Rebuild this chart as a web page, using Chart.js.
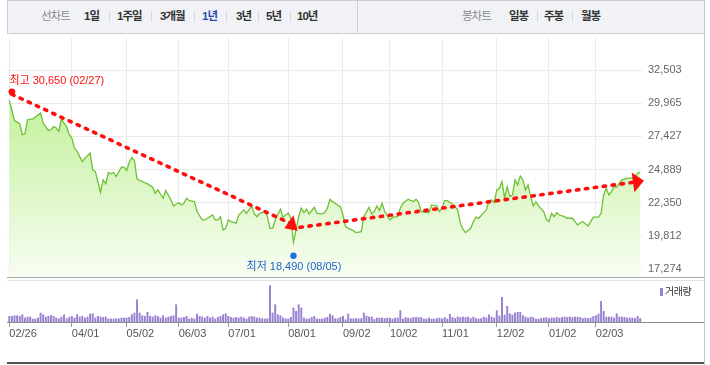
<!DOCTYPE html>
<html lang="ko">
<head>
<meta charset="utf-8">
<title>주가 차트</title>
<script src="https://cdn.jsdelivr.net/npm/chart.js@4.4.1/dist/chart.umd.min.js"></script>
<style>
  html, body { margin: 0; padding: 0; background: #fff; }
  #wrap { position: relative; width: 710px; height: 365px; overflow: hidden;
          font-family: "Liberation Sans", "Noto Sans CJK KR", sans-serif; }
  #toolbar { position: absolute; left: 7px; top: 0; width: 698px; height: 34px; box-sizing: border-box;
             background: #f1f2f6; border: 1px solid #cdced3; }
  .t { position: absolute; top: 0; line-height: 33px; font-size: 11.5px; letter-spacing: -1px;
       font-weight: bold; color: #333; white-space: nowrap; }
  .t.head { font-weight: normal; color: #8a8a8a; }
  .t.on { color: #2a4db3; }
  .sep { position: absolute; top: 11px; width: 1px; height: 11px; background: #d6d7dc; }
  .ln { position: absolute; }
  #price { position: absolute; left: 0; top: 38px; }
  #volume { position: absolute; left: 0; top: 283px; }
  #legend { position: absolute; left: 660px; top: 285px; font-size: 10px; letter-spacing: -0.5px;
            color: #333; line-height: 14px; white-space: nowrap; }
  #legend i { display: inline-block; width: 3px; height: 8px; background: #9a82d2; margin-right: 2px; vertical-align: -1px; }
</style>
</head>
<body>
<div id="wrap">
  <div id="toolbar"></div>
  <div class="ln" style="left:357px;top:0;width:1px;height:33px;background:#cdced3"></div>

  <span class="t head" style="left:41px">선차트</span>
  <span class="t" style="left:84px">1일</span>
  <span class="sep" style="left:109px"></span>
  <span class="t" style="left:117px">1주일</span>
  <span class="sep" style="left:151px"></span>
  <span class="t" style="left:160px">3개월</span>
  <span class="sep" style="left:194px"></span>
  <span class="t on" style="left:202px">1년</span>
  <span class="sep" style="left:226px"></span>
  <span class="t" style="left:236px">3년</span>
  <span class="sep" style="left:258px"></span>
  <span class="t" style="left:266px">5년</span>
  <span class="sep" style="left:290px"></span>
  <span class="t" style="left:297px">10년</span>

  <span class="t head" style="left:462px">봉차트</span>
  <span class="t" style="left:509px">일봉</span>
  <span class="sep" style="left:537px"></span>
  <span class="t" style="left:544px">주봉</span>
  <span class="sep" style="left:572px"></span>
  <span class="t" style="left:581px">월봉</span>

  <canvas id="price" width="710" height="240"></canvas>
  <canvas id="volume" width="710" height="60"></canvas>

  <!-- 테두리 -->
  <div class="ln" style="left:7px;top:277px;width:697px;height:1px;background:#a8a8a8"></div>
  <div class="ln" style="left:7px;top:280px;width:697px;height:1px;background:#e4e4e4"></div>
  <div class="ln" style="left:7px;top:322px;width:697px;height:1px;background:#8c8c8c"></div>
  <div class="ln" style="left:7px;top:362px;width:698px;height:2px;background:#555"></div>
  <div class="ln" style="left:704px;top:0;width:1px;height:365px;background:#c8c8c8"></div>

  <div id="legend"><i></i>거래량</div>
</div>

<script>
// 거래일 인덱스 (0 = 2024-02-26)
const tickDays = [0, 24, 45, 65, 84, 107, 128, 146, 166, 187, 207, 225];
const tickLabels = ['02/26', '04/01', '05/02', '06/03', '07/01', '08/01', '09/02', '10/02', '11/01', '12/02', '01/02', '02/03'];
const priceTicks = [17274, 19812, 22350, 24889, 27427, 29965, 32503];

// 종가
const priceDays = [0, 2, 4, 5, 6, 7, 9, 10, 12, 13,
    15, 16, 17, 18, 19, 20, 21, 22, 23, 24,
    25, 26, 28, 29, 31, 32, 33, 35, 36, 37,
    38, 39, 40, 41, 43, 44, 45, 46, 47, 48,
    49, 51, 53, 55, 56, 57, 59, 60, 62, 63,
    65, 66, 67, 68, 69, 71, 72, 74, 75, 76,
    78, 79, 80, 81, 82, 83, 84, 85, 87, 88,
    90, 91, 93, 94, 95, 96, 98, 99, 100, 101,
    102, 104, 105, 106, 107, 108, 109, 110, 111, 112,
    113, 114, 115, 117, 118, 120, 121, 122, 123, 124,
    126, 127, 128, 129, 130, 132, 133, 135, 136, 138,
    139, 140, 141, 142, 143, 144, 146, 147, 149, 150,
    151, 153, 155, 156, 157, 158, 160, 161, 162, 164,
    165, 166, 167, 168, 170, 172, 173, 174, 175, 177,
    178, 179, 180, 182, 183, 184, 185, 186, 187, 188,
    189, 190, 191, 192, 193, 194, 195, 196, 197, 198,
    199, 200, 201, 202, 203, 205, 206, 207, 208, 209,
    210, 211, 213, 214, 216, 218, 219, 220, 222, 223,
    224, 226, 227, 228, 229, 230, 231, 232, 233, 234,
    235, 237, 239, 240, 241, 242];
const closePrices = [30190, 28650, 28400, 27560, 27630, 28710, 28780, 28910, 29220, 28450,
    27890, 27940, 28190, 28070, 27810, 28760, 28450, 28190, 27560, 27300,
    26540, 26280, 25510, 25770, 26150, 24870, 24740, 23160, 24110, 23800,
    24670, 24570, 24670, 24360, 25080, 25080, 24820, 25430, 25820, 25590,
    24160, 23980, 23800, 23550, 23090, 23340, 22700, 23290, 22570, 22110,
    22370, 22190, 22320, 22700, 22520, 22440, 21680, 21040, 21040, 21170,
    21420, 21040, 21040, 21290, 20270, 20400, 21040, 20910, 20790, 21420,
    21810, 21550, 22110, 21500, 21290, 21550, 21680, 21290, 20400, 20400,
    21040, 21860, 21250, 21420, 21550, 21170, 19350, 20270, 21290, 21940,
    21600, 21860, 21500, 22010, 21550, 21500, 21600, 21940, 22630, 22440,
    22190, 22060, 21420, 20530, 20400, 20220, 20070, 20140, 21290, 22010,
    21500, 21680, 22110, 21750, 22320, 21680, 21040, 21250, 21290, 21940,
    22320, 22630, 22440, 22630, 22370, 21680, 21630, 21600, 22190, 22110,
    21680, 21940, 22520, 22520, 22270, 21810, 20790, 20330, 20070, 20400,
    20910, 21250, 21150, 21600, 21810, 22520, 22570, 22370, 23340, 23470,
    23980, 22700, 23590, 22830, 22950, 24110, 23720, 24410, 24110, 23340,
    23720, 22830, 22110, 22440, 22110, 21680, 21090, 20910, 21550, 21290,
    21600, 21420, 21290, 21170, 21170, 20660, 20830, 20910, 20580, 20910,
    21250, 21250, 21550, 22950, 23470, 22950, 23210, 23590, 23550, 23850,
    24110, 24240, 24240, 24310, 24620, 24700];

// 일별 거래량 (만주, 대략)
const volumes = [57, 57, 63, 63, 57, 73, 40, 50, 50, 30,
    30, 40, 90, 73, 50, 57, 63, 57, 40, 33,
    50, 73, 33, 47, 57, 40, 73, 50, 57, 40,
    50, 80, 83, 40, 57, 50, 47, 50, 30, 30,
    30, 33, 33, 40, 40, 40, 47, 73, 90, 223,
    90, 63, 57, 97, 57, 50, 63, 57, 40, 63,
    40, 50, 57, 63, 173, 40, 40, 47, 57, 30,
    40, 30, 80, 57, 50, 40, 57, 40, 50, 30,
    47, 57, 73, 83, 57, 47, 40, 47, 40, 50,
    40, 30, 50, 57, 50, 40, 40, 33, 30, 33,
    363, 90, 173, 73, 63, 40, 33, 30, 47, 140,
    107, 173, 140, 40, 30, 30, 47, 57, 30, 30,
    30, 40, 47, 80, 63, 33, 33, 47, 57, 23,
    80, 33, 33, 33, 33, 35, 90, 60, 50, 50,
    25, 40, 40, 40, 35, 40, 40, 30, 40, 40,
    113, 30, 45, 40, 35, 45, 45, 45, 45, 30,
    30, 40, 30, 30, 35, 40, 30, 45, 30, 77,
    45, 35, 50, 45, 50, 45, 50, 35, 50, 35,
    30, 35, 50, 40, 73, 50, 40, 113, 60, 247,
    70, 157, 83, 70, 90, 97, 97, 63, 50, 40,
    50, 45, 30, 30, 35, 40, 45, 35, 40, 40,
    45, 40, 45, 50, 45, 50, 45, 50, 50, 45,
    35, 40, 35, 40, 55, 63, 80, 207, 107, 50,
    50, 50, 40, 83, 50, 50, 45, 40, 40, 40,
    35, 57, 35];

// 최고 / 최저
const highDay = 1, highPrice = 30650, highDate = '02/27';
const lowDay = 109, lowPrice = 18490, lowDate = '08/05';

// 추세선 [거래일, 가격]
const trendStart = [[1, 30650], [111.5, 20476]];
const trendEnd = [[108.4, 20728], [240.4, 23950]];

const dayMin = -0.88, dayMax = 242.7;
const priceMin = 16601, priceMax = 34959;
const volumeMax = 390;

const RED = '#ff0d0d';

const setTicks = list => scale => { scale.ticks = list.map(v => ({ value: v })); };

// 화살촉, 최고/최저 표시
const markerPlugin = {
    id: 'markers',
    afterDatasetsDraw(chart) {
        const { ctx } = chart;
        const x = chart.scales.x, y = chart.scales.y;
        ctx.save();

        // 화살촉
        const heads = [
            { angle: -80 * Math.PI / 180, tip: 9, back: 5.5, half: 6.7 },
            { angle: null, tip: 8, back: 3, half: 10 }
        ];
        trendEnd.forEach((end, i) => {
            const ex = x.getPixelForValue(end[0]), ey = y.getPixelForValue(end[1]);
            const sx = x.getPixelForValue(trendStart[i][0]), sy = y.getPixelForValue(trendStart[i][1]);
            const h = heads[i];
            const a = h.angle === null ? Math.atan2(ey - sy, ex - sx) : h.angle;
            const ux = Math.cos(a), uy = Math.sin(a);
            ctx.fillStyle = RED;
            ctx.beginPath();
            ctx.moveTo(ex + h.tip * ux, ey + h.tip * uy);
            ctx.lineTo(ex - h.back * ux - h.half * uy, ey - h.back * uy + h.half * ux);
            ctx.lineTo(ex - h.back * ux + h.half * uy, ey - h.back * uy - h.half * ux);
            ctx.closePath();
            ctx.fill();
        });

        ctx.font = '11px "Liberation Sans", "Noto Sans CJK KR"';
        ctx.textBaseline = 'middle';

        // 최고
        const hx = x.getPixelForValue(highDay), hy = y.getPixelForValue(highPrice) - 2.5;
        ctx.fillStyle = RED;
        ctx.beginPath();
        ctx.arc(hx, hy, 3.4, 0, Math.PI * 2);
        ctx.fill();
        ctx.textAlign = 'left';
        ctx.fillText('최고 ' + highPrice.toLocaleString('en-US') + ' (' + highDate + ')', hx - 2.5, hy - 10.5);

        // 최저
        const lx = x.getPixelForValue(lowDay), ly = y.getPixelForValue(lowPrice) + 2.5;
        ctx.fillStyle = '#1f6fe0';
        ctx.beginPath();
        ctx.arc(lx, ly, 3.2, 0, Math.PI * 2);
        ctx.fill();
        ctx.fillStyle = '#2266cc';
        ctx.textAlign = 'center';
        ctx.fillText('최저 ' + lowPrice.toLocaleString('en-US') + ' (' + lowDate + ')', lx + 0.5, ly + 11.5);

        ctx.restore();
    }
};

const areaFill = context => {
    const { ctx, chartArea } = context.chart;
    if (!chartArea) return null;
    const g = ctx.createLinearGradient(0, chartArea.top, 0, chartArea.bottom);
    g.addColorStop(0, 'rgb(176,236,126)');
    g.addColorStop(1, 'rgb(248,253,242)');
    return g;
};

const trendSets = trendStart.map((s, i) => ({
    data: [{ x: s[0], y: s[1] }, { x: trendEnd[i][0], y: trendEnd[i][1] }],
    borderColor: RED,
    borderWidth: 3.6,
    borderDash: [2.4, 6.6],
    borderCapStyle: 'round',
    pointRadius: 0,
    fill: false,
    order: 0
}));

new Chart(document.getElementById('price'), {
    type: 'line',
    data: {
        datasets: trendSets.concat([{
            data: priceDays.map((d, i) => ({ x: d, y: closePrices[i] })),
            borderColor: '#6cc132',
            borderWidth: 1.3,
            pointRadius: 0,
            tension: 0,
            fill: 'start',
            backgroundColor: areaFill,
            order: 5
        }])
    },
    options: {
        responsive: false,
        animation: false,
        events: [],
        layout: { padding: { left: 7, right: 0, top: 0, bottom: 0 } },
        plugins: { legend: { display: false }, tooltip: { enabled: false } },
        scales: {
            x: {
                type: 'linear', min: dayMin, max: dayMax,
                afterBuildTicks: setTicks(tickDays),
                ticks: { display: false },
                grid: { color: '#ebebeb', drawTicks: false },
                border: { display: false },
                afterFit: s => { s.height = 0; s.paddingLeft = 0; s.paddingRight = 0; }
            },
            y: {
                position: 'right', min: priceMin, max: priceMax,
                afterBuildTicks: setTicks(priceTicks),
                ticks: {
                    padding: 6, color: '#666',
                    font: { family: '"Liberation Sans", Arial', size: 11 },
                    callback: v => v.toLocaleString('en-US')
                },
                grid: { color: '#ebebeb', drawTicks: false },
                border: { display: false },
                afterFit: s => { s.width = 68; s.paddingTop = 0; s.paddingBottom = 0; }
            }
        }
    },
    plugins: [markerPlugin]
});

new Chart(document.getElementById('volume'), {
    type: 'bar',
    data: {
        datasets: [{
            data: volumes.map((v, i) => ({ x: i, y: v })),
            backgroundColor: '#9a82d2',
            barThickness: 1.3
        }]
    },
    options: {
        responsive: false,
        animation: false,
        events: [],
        layout: { padding: { left: 7, right: 0, top: 0, bottom: 0 } },
        plugins: { legend: { display: false }, tooltip: { enabled: false } },
        scales: {
            x: {
                type: 'linear', min: dayMin, max: dayMax, offset: false,
                afterBuildTicks: setTicks(tickDays),
                ticks: {
                    align: 'start', padding: 0, color: '#555', maxRotation: 0, autoSkip: false,
                    font: { family: '"Liberation Sans", Arial', size: 11 },
                    callback: v => tickLabels[tickDays.indexOf(v)]
                },
                grid: { offset: false, drawOnChartArea: false, drawTicks: true, tickLength: 5, color: '#999' },
                border: { display: false },
                afterFit: s => { s.height = 21; s.paddingLeft = 0; s.paddingRight = 0; }
            },
            y: {
                position: 'right', min: 0, max: volumeMax,
                ticks: { display: false },
                grid: { display: false },
                border: { display: false },
                afterFit: s => { s.width = 68; s.paddingTop = 0; s.paddingBottom = 0; }
            }
        }
    }
});
</script>
</body>
</html>
